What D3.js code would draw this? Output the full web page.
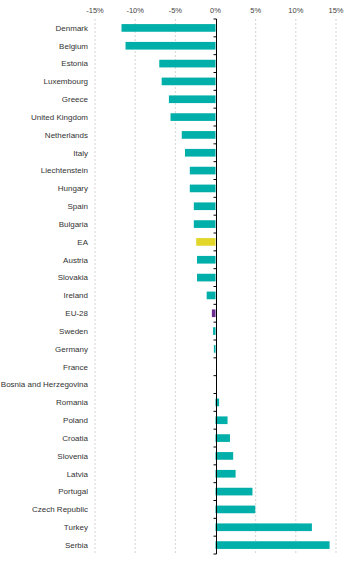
<!DOCTYPE html>
<html>
<head>
<meta charset="utf-8">
<script src="https://cdn.jsdelivr.net/npm/d3@7"></script>
<style>
  body { margin: 0; background: #fff; }
  text { font-family: "Liberation Sans", Arial, sans-serif; }
</style>
</head>
<body>
<div id="chart"></div>
<script>
// data (% change)
const countries = ['Denmark', 'Belgium', 'Estonia', 'Luxembourg', 'Greece', 'United Kingdom',
    'Netherlands', 'Italy', 'Liechtenstein', 'Hungary', 'Spain', 'Bulgaria', 'EA', 'Austria',
    'Slovakia', 'Ireland', 'EU-28', 'Sweden', 'Germany', 'France', 'Bosnia and Herzegovina',
    'Romania', 'Poland', 'Croatia', 'Slovenia', 'Latvia', 'Portugal', 'Czech Republic', 'Turkey', 'Serbia'];
const values = [-11.7, -11.2, -7.0, -6.7, -5.8, -5.6,
    -4.2, -3.8, -3.2, -3.2, -2.7, -2.7, -2.4, -2.3,
    -2.3, -1.1, -0.45, -0.3, -0.2, 0, 0,
    0.45, 1.5, 1.8, 2.2, 2.5, 4.6, 4.95, 12.0, 14.2];
const xTicks = [-15, -10, -5, 0, 5, 10, 15];
const highlight = {'EA': '#e2d62b', 'EU-28': '#6b2d8f'};

const data = countries.map((c, i) => ({country: c, value: values[i]}));

const width = 350, height = 566;
const margin = {top: 19, right: 14, bottom: 12, left: 95};

const svg = d3.select('#chart').append('svg')
    .attr('width', width)
    .attr('height', height);

const xScale = d3.scaleLinear()
    .domain([-15, 15])
    .range([margin.left, width - margin.right]);

const yScale = d3.scaleBand()
    .domain(countries)
    .range([margin.top, height - margin.bottom])
    .paddingInner(0.57)
    .paddingOuter(0.285);

// dashed vertical gridlines
svg.append('g')
    .selectAll('line')
    .data(xTicks.filter(d => d !== 0))
    .join('line')
    .attr('x1', d => xScale(d))
    .attr('x2', d => xScale(d))
    .attr('y1', margin.top)
    .attr('y2', height - margin.bottom)
    .attr('stroke', '#d4d4d4')
    .attr('stroke-width', 1)
    .attr('stroke-dasharray', '2,2');

// top axis tick labels
svg.append('g')
    .selectAll('text')
    .data(xTicks)
    .join('text')
    .attr('x', d => xScale(d))
    .attr('y', 13)
    .attr('text-anchor', 'middle')
    .attr('font-size', '7.5px')
    .attr('fill', '#444')
    .text(d => d + '%');

// bars
svg.append('g')
    .selectAll('rect')
    .data(data)
    .join('rect')
    .attr('x', d => xScale(Math.min(0, d.value)))
    .attr('y', d => yScale(d.country))
    .attr('width', d => Math.abs(xScale(d.value) - xScale(0)))
    .attr('height', yScale.bandwidth())
    .attr('fill', d => highlight[d.country] || '#00afa9');

// category labels
svg.append('g')
    .selectAll('text')
    .data(countries)
    .join('text')
    .attr('x', 88)
    .attr('y', d => yScale(d) + yScale.bandwidth() / 2)
    .attr('dy', '0.35em')
    .attr('text-anchor', 'end')
    .attr('font-size', '8px')
    .attr('fill', '#333')
    .text(d => d);

// zero axis with ticks on band boundaries
const x0 = Math.round(xScale(0)) + 0.5;
const axisG = svg.append('g');
axisG.append('line')
    .attr('x1', x0).attr('x2', x0)
    .attr('y1', margin.top).attr('y2', height - margin.bottom)
    .attr('stroke', '#000');
const step = yScale.step();
axisG.selectAll('.tick')
    .data(d3.range(countries.length + 1))
    .join('line')
    .attr('class', 'tick')
    .attr('x1', x0 - 3).attr('x2', x0)
    .attr('y1', i => margin.top + i * step)
    .attr('y2', i => margin.top + i * step)
    .attr('stroke', '#000');
</script>
</body>
</html>
